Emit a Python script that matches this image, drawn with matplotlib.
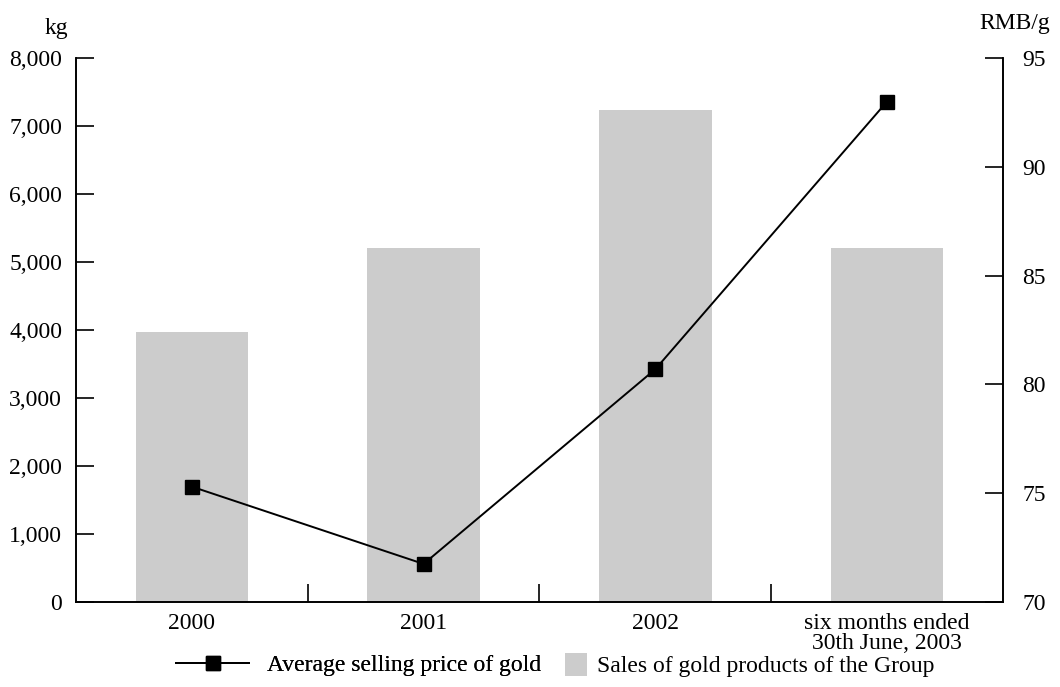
import matplotlib.pyplot as plt
from matplotlib.patches import Patch
from matplotlib.lines import Line2D

plt.rcParams['font.family'] = ['Liberation Serif', 'DejaVu Serif']

periods = ["2000", "2001", "2002", "six months ended\n30th June, 2003"]
sales_kg = [3970, 5200, 7230, 5200]
price_rmb_g = [75.3, 71.75, 80.7, 93.0]

fs = 17
fig = plt.figure(figsize=(10.6, 6.87), dpi=100)
ax = fig.add_axes([0.0717, 0.1237, 0.8745, 0.7919])
ax2 = ax.twinx()

x = list(range(len(periods)))
ax.bar(x, sales_kg, width=0.485, color='#cccccc', zorder=1)
ax2.plot(x, price_rmb_g, color='black', lw=1.4, marker='s', markersize=9.5,
         markerfacecolor='black', zorder=3)

ax.set_xlim(-0.5, 3.5)
ax.set_ylim(0, 8000)
ax2.set_ylim(70, 95)

ax.set_yticks(range(0, 8001, 1000))
ax.set_yticklabels([f"{v:,}" for v in range(0, 8001, 1000)], fontsize=fs)
ax2.set_yticks(range(70, 96, 5))
ax2.set_yticklabels([str(v) for v in range(70, 96, 5)], fontsize=fs)

ax.set_xticks(x)
ax.set_xticklabels(periods, fontsize=fs, linespacing=0.95)
ax.set_xticks([0.5, 1.5, 2.5], minor=True)
ax.tick_params(axis='x', which='major', length=0, pad=8)
ax.tick_params(axis='x', which='minor', direction='in', length=13, width=1.2)
ax.tick_params(axis='y', direction='in', length=13, width=1.2, pad=10)
ax2.tick_params(axis='y', direction='in', length=13, width=1.2, pad=14)

for a in (ax, ax2):
    a.spines['top'].set_visible(False)
    for s in ('left', 'right', 'bottom'):
        a.spines[s].set_linewidth(1.2)

fig.text(0.053, 0.958, "kg", fontsize=fs, ha='center', va='center')
fig.text(0.9575, 0.966, "RMB/g", fontsize=fs, ha='center', va='center')

# two legends so the grey square can be narrower than the line handle
leg_y = 0.032
leg1 = fig.legend([Line2D([0], [0], color='black', lw=1.4, marker='s', markersize=9.5)],
                  ["Average selling price of gold"], loc='center left',
                  bbox_to_anchor=(176 / 1060, leg_y), frameon=False, fontsize=fs,
                  handlelength=3.1, handletextpad=0.76, borderpad=0, borderaxespad=0)
fig.legend([Patch(facecolor='#cccccc', edgecolor='none')],
           ["Sales of gold products of the Group"], loc='center left',
           bbox_to_anchor=(565 / 1060, leg_y), frameon=False, fontsize=fs,
           handlelength=0.93, handleheight=1.1, handletextpad=0.42,
           borderpad=0, borderaxespad=0)
fig.add_artist(leg1)

fig.savefig("out.png", dpi=100)
